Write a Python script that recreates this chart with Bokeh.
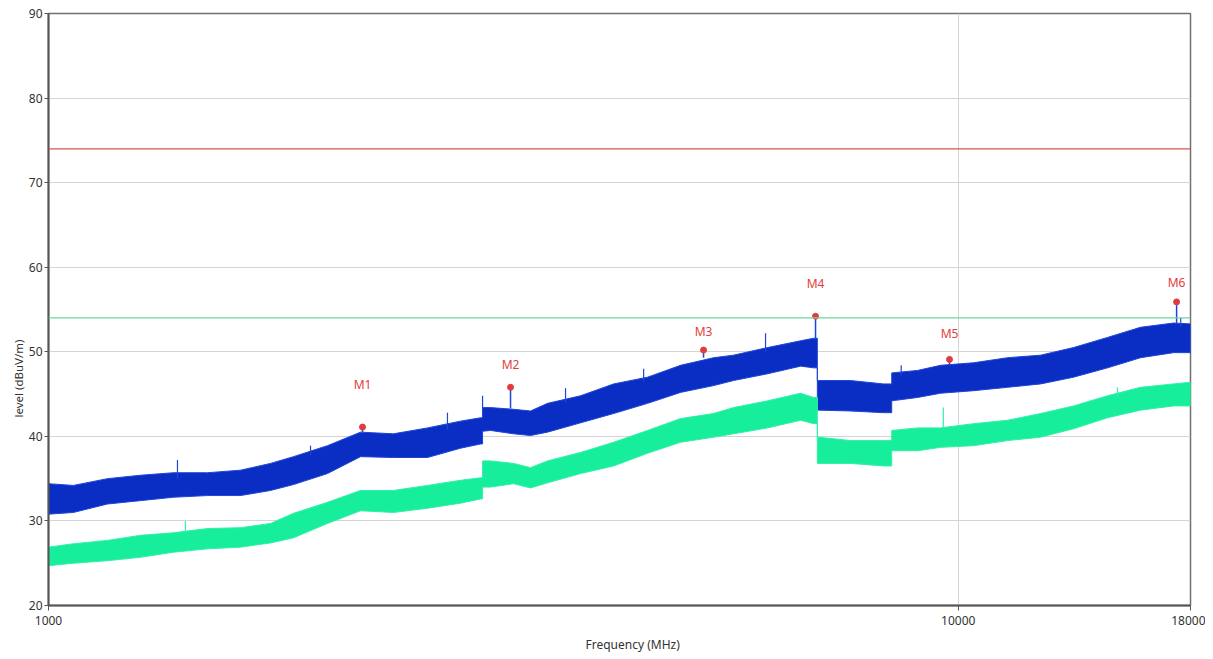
from bokeh.plotting import figure
from bokeh.models import FixedTicker, PrintfTickFormatter, Span, Range1d, Title
from bokeh.core.properties import value
from bokeh.embed import file_html
from bokeh.resources import INLINE

# ---- data ----
blue_freq = [1000, 1065, 1161, 1262, 1372, 1496, 1626, 1754, 1859, 2026, 2203, 2394, 2610, 2837, 2985,
             3000, 3000, 3061, 3245, 3387, 3536, 3845, 4180, 4555, 4952, 5383, 5662, 6172, 6710, 6935,
             7000, 7000, 7023, 7614, 8277, 8450, 8450, 9023, 9562, 10395, 11328, 12317, 13389, 14591,
             15864, 17247, 18000]
blue_upper = [34.4, 34.2, 35.0, 35.4, 35.7, 35.7, 36.0, 36.8, 37.6, 38.9, 40.5, 40.3, 41.0, 41.8, 42.2,
              42.2, 43.4, 43.4, 43.2, 43.0, 43.9, 44.8, 46.2, 47.0, 48.4, 49.3, 49.6, 50.5, 51.3, 51.6,
              51.6, 46.6, 46.6, 46.6, 46.2, 46.2, 47.5, 47.8, 48.4, 48.7, 49.3, 49.6, 50.5, 51.7,
              52.9, 53.4, 53.3]
blue_lower = [30.8, 31.0, 32.0, 32.4, 32.8, 33.0, 33.0, 33.6, 34.3, 35.6, 37.6, 37.5, 37.5, 38.6, 39.1,
              39.1, 40.6, 40.7, 40.3, 40.1, 40.5, 41.6, 42.7, 43.9, 45.2, 46.0, 46.6, 47.4, 48.3, 48.1,
              48.1, 43.1, 43.1, 43.0, 42.8, 42.8, 44.2, 44.6, 45.1, 45.4, 45.8, 46.2, 47.0, 48.1,
              49.3, 49.9, 49.9]

green_freq = blue_freq
green_upper = [26.9, 27.3, 27.7, 28.3, 28.6, 29.1, 29.2, 29.7, 30.9, 32.2, 33.6, 33.6, 34.2, 34.8, 35.1,
               35.1, 37.1, 37.1, 36.8, 36.3, 37.1, 38.1, 39.3, 40.7, 42.1, 42.7, 43.4, 44.2, 45.1, 44.6,
               44.6, 39.9, 39.9, 39.5, 39.5, 39.5, 40.7, 41.0, 41.0, 41.5, 41.9, 42.7, 43.6, 44.8,
               45.8, 46.2, 46.4]
green_lower = [24.7, 25.0, 25.3, 25.7, 26.3, 26.7, 26.9, 27.4, 28.0, 29.7, 31.2, 31.0, 31.5, 32.1, 32.6,
               32.6, 34.0, 34.0, 34.4, 33.9, 34.5, 35.6, 36.5, 38.0, 39.3, 39.9, 40.3, 41.0, 41.9, 41.5,
               41.5, 36.8, 36.8, 36.8, 36.5, 36.5, 38.3, 38.3, 38.7, 38.9, 39.5, 39.9, 40.9, 42.2,
               43.1, 43.6, 43.6]

# isolated spikes rising above the bands
blue_spike_freq = [1386, 1941, 2745, 3000, 3701, 4510, 6140, 8655, 17560]
blue_spike_base = [35.0, 37.8, 40.8, 42.5, 44.0, 46.5, 50.0, 47.2, 53.0]
blue_spike_top = [37.2, 38.9, 42.8, 44.8, 45.7, 48.0, 52.2, 48.4, 54.0]
green_spike_freq = [1414, 9629, 14962]
green_spike_base = [28.5, 40.8, 44.6]
green_spike_top = [30.0, 43.4, 45.8]

marker_names = ["M1", "M2", "M3", "M4", "M5", "M6"]
marker_freq = [2214, 3220, 5248, 6968, 9781, 17378]
marker_level = [41.1, 45.8, 50.2, 54.2, 49.1, 55.9]
marker_stem_base = [40.5, 43.3, 49.3, 51.6, 48.4, 53.3]
marker_label_level = [46.1, 48.5, 52.4, 58.1, 52.2, 58.2]

limit_peak = 74
limit_avg = 54

x_ticks = [1000, 10000, 18000]
y_ticks = [20, 30, 40, 50, 60, 70, 80, 90]
x_label = "Frequency (MHz)"
y_label = "level (dBuV/m)"

FONT = "Noto Sans"
BLUE = "#0a2ec4"
GREEN = "#16ee9c"

p = figure(width=1205, height=659, x_axis_type="log",
           x_range=Range1d(1000, 18000), y_range=Range1d(20, 90),
           output_backend="svg", toolbar_location=None,
           min_border_left=48, min_border_right=15, min_border_top=13, min_border_bottom=54)

p.background_fill_color = "white"
p.border_fill_color = "white"
p.outline_line_color = "#707070"
p.outline_line_width = 1.5

# grid
p.ygrid.ticker = FixedTicker(ticks=[30, 40, 50, 60, 70, 80])
p.xgrid.ticker = FixedTicker(ticks=[10000])
p.grid.grid_line_color = "#d4d4d4"
p.grid.grid_line_width = 1

# traces as closed bands
p.patch(x=blue_freq + blue_freq[::-1], y=blue_upper + blue_lower[::-1],
        fill_color=BLUE, line_color="#1f45d8", line_width=1)
p.patch(x=green_freq + green_freq[::-1], y=green_upper + green_lower[::-1],
        fill_color=GREEN, line_color="#30f0a8", line_width=1)
p.segment(x0=blue_spike_freq, y0=blue_spike_base, x1=blue_spike_freq, y1=blue_spike_top,
          line_color="#1f45d8", line_width=1.2)
p.segment(x0=green_spike_freq, y0=green_spike_base, x1=green_spike_freq, y1=green_spike_top,
          line_color="#30f0a8", line_width=1.2)
p.segment(x0=marker_freq, y0=marker_stem_base, x1=marker_freq, y1=marker_level,
          line_color="#1f45d8", line_width=1.5)

# limits
p.add_layout(Span(location=limit_peak, dimension="width", line_color="#d9534f", line_width=1.3))
p.add_layout(Span(location=limit_avg, dimension="width", line_color="#6fd6a0", line_width=1.3))

# markers
p.scatter(x=marker_freq, y=marker_level, size=6, fill_color="#e03c3c", line_color="#e03c3c")
p.text(x=marker_freq, y=marker_label_level, text=marker_names,
       text_font=value(FONT), text_font_size="12px", text_color="#e0403c",
       text_align="center", text_baseline="middle")

# axes
for ax in (p.xaxis[0], p.yaxis[0]):
    ax.axis_line_color = "#555555"
    ax.axis_line_width = 2
    ax.major_tick_line_color = "#555555"
    ax.major_tick_out = 5
    ax.major_tick_in = 0
    ax.minor_tick_line_color = None
    ax.major_label_text_font = FONT
    ax.major_label_text_font_size = "12px"
    ax.major_label_text_color = "#333333"

p.xaxis.ticker = FixedTicker(ticks=x_ticks)
p.xaxis.formatter = PrintfTickFormatter(format="%d")
p.yaxis.ticker = FixedTicker(ticks=y_ticks)
p.xaxis.major_label_standoff = 5
p.yaxis.major_label_standoff = 2
p.yaxis.major_tick_out = 4

# axis titles (side titles, offset along the axis like the reference)
p.add_layout(Title(text=y_label, align="left", offset=188, standoff=0,
                   text_font=FONT, text_font_size="11.5px", text_font_style="normal",
                   text_color="#333333"), "left")
p.add_layout(Title(text=x_label, align="left", offset=537, standoff=12,
                   text_font=FONT, text_font_size="12px", text_font_style="normal",
                   text_color="#333333"), "below")

open("out.html", "w").write(file_html(p, INLINE))
